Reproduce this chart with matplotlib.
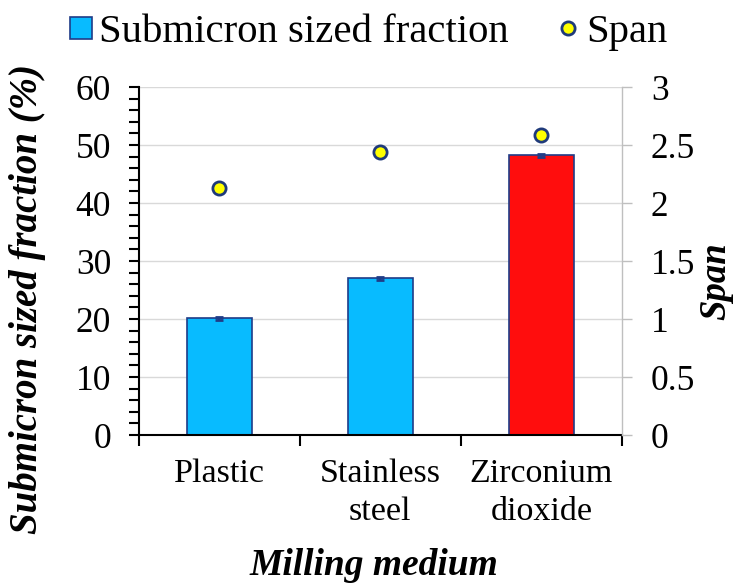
import matplotlib
matplotlib.use("Agg")
import matplotlib.pyplot as plt
from matplotlib.lines import Line2D
from matplotlib.ticker import MultipleLocator

# Data
media = ["Plastic", "Stainless\nsteel", "Zirconium\ndioxide"]
submicron_fraction = [20.1, 27.0, 48.2]
submicron_err = [0.3, 0.2, 0.2]
span = [2.13, 2.44, 2.59]
bar_colors = ["#08BBFF", "#08BBFF", "#FF0D0D"]

plt.rcParams["font.family"] = ["Liberation Serif", "DejaVu Serif"]

fig = plt.figure(figsize=(7.35, 5.84), dpi=100)
ax = fig.add_axes([0.189, 0.255, 0.657, 0.596])

x = list(range(len(media)))
ax.bar(x, submicron_fraction, width=0.40, color=bar_colors,
       edgecolor="#1F3C88", linewidth=1.2, zorder=2)
ax.errorbar(x, submicron_fraction, yerr=submicron_err, fmt="none",
            ecolor="#1F3C88", elinewidth=1.5, capsize=3, capthick=2, zorder=3)

ax.set_xlim(-0.5, 2.5)
ax.set_ylim(0, 60)
ax.yaxis.set_major_locator(MultipleLocator(10))
ax.yaxis.set_minor_locator(MultipleLocator(2))
ax.grid(axis="y", which="major", color="#D9D9D9", linewidth=1.0, zorder=0)
ax.set_axisbelow(True)

ax.set_xticks([-0.5, 0.5, 1.5, 2.5])
ax.set_xticklabels([])
ax.set_xticks(x, minor=True)
ax.set_xticklabels(media, minor=True, fontsize=24.5, linespacing=1.3)
ax.tick_params(axis="x", which="major", direction="out", length=8, width=1.5, color="black")
ax.tick_params(axis="x", which="minor", length=0, pad=17)
ax.tick_params(axis="y", which="both", direction="out", length=7, width=1.5,
               labelsize=25.5, pad=13)

for side in ["left", "bottom"]:
    ax.spines[side].set_linewidth(1.5)
    ax.spines[side].set_color("black")
ax.spines["top"].set_visible(False)
ax.spines["right"].set_visible(False)

ax.set_ylabel("Submicron sized fraction (%)", fontsize=28, fontweight="bold",
              fontstyle="italic")
ax.yaxis.set_label_coords(-0.193, 0.39)

# Span on the secondary axis
ax2 = ax.twinx()
ax2.plot(x, span, linestyle="none", marker="o", markersize=9.5,
         markerfacecolor="#FFFF00", markeredgecolor="#1F3A7A",
         markeredgewidth=2, zorder=4)
ax2.set_ylim(0, 3)
ax2.yaxis.set_major_locator(MultipleLocator(0.5))
ax2.yaxis.set_major_formatter(plt.FuncFormatter(lambda v, p: f"{v:g}"))
ax2.tick_params(axis="y", direction="out", length=7, width=1.0, color="#BFBFBF",
                labelsize=25.5, pad=14)
for side in ["left", "bottom", "top"]:
    ax2.spines[side].set_visible(False)
ax2.spines["right"].set_color("#BFBFBF")
ax2.spines["right"].set_linewidth(1.0)
ax2.set_ylabel("Span", fontsize=26.5, fontweight="bold", fontstyle="italic")
ax2.yaxis.set_label_coords(1.158, 0.443)

fig.text(0.509, 0.0155, "Milling medium", fontsize=27, fontweight="bold",
         fontstyle="italic", ha="center", va="baseline")

handles = [
    Line2D([], [], linestyle="none", marker="s", markersize=16,
           markerfacecolor="#08BBFF", markeredgecolor="#1F3C88", markeredgewidth=1.2),
    Line2D([], [], linestyle="none", marker="o", markersize=9.5,
           markerfacecolor="#FFFF00", markeredgecolor="#1F3A7A", markeredgewidth=2),
]
fig.legend(handles, ["Submicron sized fraction", "Span"], loc="center",
           bbox_to_anchor=(0.499, 0.944), ncol=2, frameon=False, fontsize=29.3,
           handlelength=0.7, handletextpad=0.1, columnspacing=1.1)

fig.savefig("out.png", dpi=100)
